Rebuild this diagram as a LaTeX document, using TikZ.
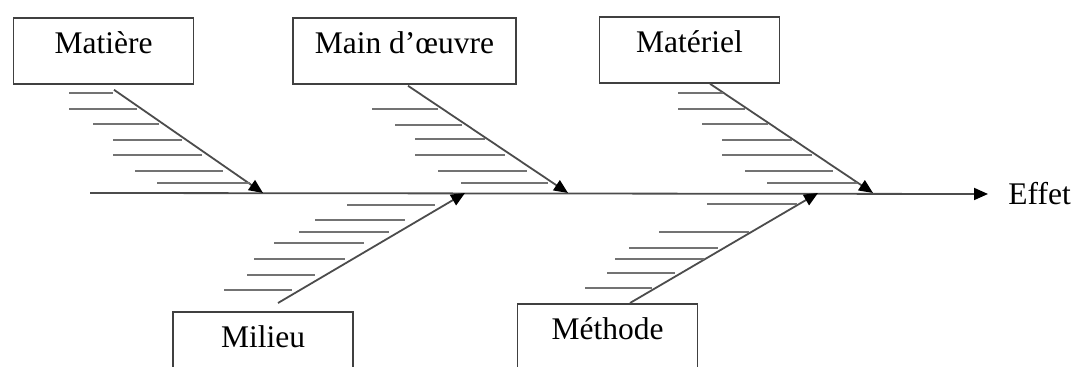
\documentclass[tikz,border=0pt]{standalone}
\usepackage{fontspec}
\setmainfont{Liberation Serif}
\usetikzlibrary{arrows.meta}

\tikzset{
  causebox/.style={draw=black!75, line width=0.9pt, anchor=north, minimum width=90pt,
    inner xsep=11pt, inner ysep=0pt, text height=18pt, text depth=15pt},
  bone/.style={black!70, line width=0.9pt, -{Triangle[length=7pt, width=6pt, color=black]}},
  rib/.style={black!55, line width=0.9pt},
}

\begin{document}
\begin{tikzpicture}[x=0.5pt, y=-0.5pt, font=\fontsize{15.75pt}{19pt}\selectfont]
\useasboundingbox (0,0) rectangle (1074,367);
% the five causes
\node[causebox] (matiere) at (103.5,17) {Matière};
\node[causebox] (oeuvre) at (404.5,17) {Main d’œuvre};
\node[causebox] (materiel) at (689.5,16) {Matériel};
\node[causebox] (milieu) at (263,311) {Milieu};
\node[causebox] (methode) at (607.5,303) {Méthode};
\node[anchor=west, inner xsep=10pt, inner ysep=0pt] (effet) at (988,194) {Effet};
% spine
\coordinate (tail) at (90,193);
\draw[bone] (tail) -- (effet.west);
\coordinate (tip1) at (263,193);
\coordinate (tip2) at (568,193);
\coordinate (tip3) at (873,193);
\coordinate (tip4) at (465,193);
\coordinate (tip5) at (818,193);
% bones
\draw[bone] (matiere.south) ++(10.5,5) -- (tip1);
\draw[bone] (oeuvre.south) ++(3.5,1) -- (tip2);
\draw[bone] (materiel.south) ++(20.5,0) -- (tip3);
\draw[bone] (milieu.north) ++(15,-8) -- (tip4);
\draw[bone] (methode.north) ++(22.5,0) -- (tip5);
% ribs, Matiere
\draw[rib] (69,93) -- (113,93);
\draw[rib] (69,109) -- (137,109);
\draw[rib] (93,124) -- (159,124);
\draw[rib] (113,140) -- (182,140);
\draw[rib] (113,155) -- (202,155);
\draw[rib] (135,171) -- (223,171);
\draw[rib] (157,183) -- (250,183);
% ribs, Main d'oeuvre
\draw[rib] (372,109) -- (438,109);
\draw[rib] (395,125) -- (462,125);
\draw[rib] (415,139) -- (485,139);
\draw[rib] (415,155) -- (505,155);
\draw[rib] (438,171) -- (527,171);
\draw[rib] (461,183) -- (548,183);
% ribs, Materiel
\draw[rib] (678,93) -- (723,93);
\draw[rib] (678,109) -- (745,109);
\draw[rib] (702,124) -- (768,124);
\draw[rib] (722,140) -- (792,140);
\draw[rib] (722,155) -- (812,155);
\draw[rib] (745,171) -- (833,171);
\draw[rib] (767,183) -- (857,183);
% ribs, Milieu
\draw[rib] (347,205) -- (435,205);
\draw[rib] (315,220) -- (405,220);
\draw[rib] (299,232) -- (389,232);
\draw[rib] (274,243) -- (364,243);
\draw[rib] (254,259) -- (345,259);
\draw[rib] (247,275) -- (315,275);
\draw[rib] (224,290) -- (292,290);
% ribs, Methode
\draw[rib] (707,204) -- (797,204);
\draw[rib] (659,232) -- (749,232);
\draw[rib] (629,248) -- (718,248);
\draw[rib] (615,259) -- (704,259);
\draw[rib] (607,273) -- (675,273);
\draw[rib] (585,288) -- (652,288);
\end{tikzpicture}
\end{document}
